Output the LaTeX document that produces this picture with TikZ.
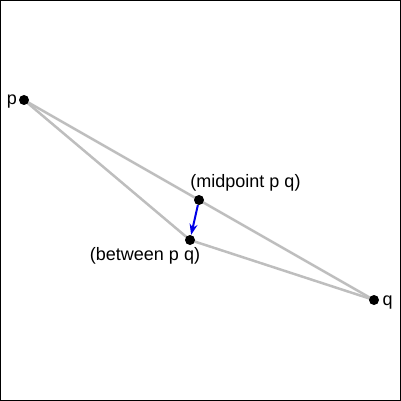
\documentclass[tikz,border=0pt]{standalone}
\usepackage{fontspec}
\setmainfont{Liberation Sans}
\definecolor{seggray}{RGB}{190,190,190}
\definecolor{arrblue}{RGB}{0,0,230}
\tikzset{
  dot/.style={circle,fill=black,inner sep=0pt,minimum size=10pt},
  seg/.style={draw=seggray,line width=2.5pt},
  arr/.style={draw=arrblue,line width=2pt,-{Stealth[length=11pt,width=8pt]}},
  lbl/.style={anchor=base,inner sep=0pt,font=\fontsize{18}{21}\selectfont}
}
\usetikzlibrary{arrows.meta}
\begin{document}
\begin{tikzpicture}[x=1pt,y=-1pt]
\useasboundingbox (0,0) rectangle (401,401);
\draw[line width=1pt] (0.5,0.5) rectangle (400.5,400.5);
\coordinate (pc) at (24,100);
\coordinate (qc) at (374,300);
\coordinate (mc) at (199,200);
\coordinate (bc) at (190,240);
\draw[seg] (pc) -- (qc);
\draw[seg] (pc) -- (bc) -- (qc);
\node[dot] (p) at (pc) {};
\node[dot] (q) at (qc) {};
\node[dot] (m) at (mc) {};
\node[dot] (b) at (bc) {};
\draw[arr] (m) -- (b);
\node[lbl] (pl) at (12,105) {p};
\node[lbl] (ql) at (387.5,305.5) {q};
\node[lbl] (ml) at (245.5,187) {(midpoint p q)};
\node[lbl] (bl) at (145,260) {(between p q)};
\end{tikzpicture}
\end{document}
